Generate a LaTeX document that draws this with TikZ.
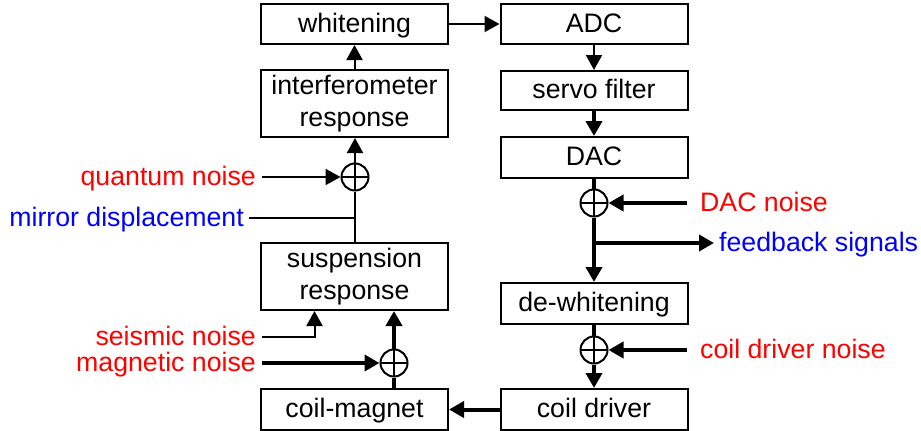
\documentclass[tikz,border=0pt]{standalone}
\usepackage{fontspec}
\setmainfont{Liberation Sans}
\usetikzlibrary{arrows.meta}
\definecolor{nred}{RGB}{255,0,0}
\definecolor{nblue}{RGB}{0,0,255}
\begin{document}
\begin{tikzpicture}[x=1pt,y=-1pt,
  every node/.style={font=\fontsize{26.7}{32}\selectfont},
  blk/.style={draw,line width=2pt,minimum width=187pt,inner sep=0pt,align=center},
  sumnode/.style={draw,circle,line width=2pt,minimum size=27pt,inner sep=0pt,
    path picture={\draw[line width=2pt] (path picture bounding box.north) -- (path picture bounding box.south)
      (path picture bounding box.west) -- (path picture bounding box.east);}},
  lbl/.style={inner sep=0pt,text height=20pt,text depth=4pt},
  thinline/.style={line width=2pt},
  thickline/.style={line width=4pt},
  tip/.style={-{Triangle[length=15pt,width=16pt]}},
]
\useasboundingbox (0,0) rectangle (921,431);
% left column
\node[blk,minimum height=40pt,text height=20pt,text depth=4pt] (wh) at (354.5,24) {whitening};
\node[blk,minimum height=67pt] (ifo) at (354.5,103.5) {interferometer\\response};
\node[blk,minimum height=67pt] (susp) at (354.5,276.5) {suspension\\response};
\node[blk,minimum height=41pt,text height=20pt,text depth=4pt] (cm) at (354.5,409.5) {coil-magnet};
% right column
\node[blk,minimum height=40pt,text height=20pt,text depth=4pt] (adc) at (594,24) {ADC};
\node[blk,minimum height=39pt,text height=20pt,text depth=4pt] (servo) at (594,90.5) {servo filter};
\node[blk,minimum height=41pt,text height=20pt,text depth=4pt] (dac) at (594,157.5) {DAC};
\node[blk,minimum height=41pt,text height=20pt,text depth=4pt] (dew) at (594,303.5) {de-whitening};
\node[blk,minimum height=41pt,text height=20pt,text depth=4pt] (cd) at (594,409.5) {coil driver};
% summing junctions
\node[sumnode] (sq) at (355,177) {};
\node[sumnode] (sm) at (394,363) {};
\node[sumnode] (sd) at (594,203) {};
\node[sumnode] (sc) at (594,350) {};
% labels
\node[lbl,anchor=east,text=nred] (qn) at (256,177) {quantum noise};
\node[lbl,anchor=east,text=nblue] (md) at (244,218) {mirror displacement};
\node[lbl,anchor=east,text=nred] (sn) at (256,337) {seismic noise};
\node[lbl,anchor=east,text=nred] (mn) at (256,363) {magnetic noise};
\node[lbl,anchor=west,text=nred] (dn) at (700,203) {DAC noise};
\node[lbl,anchor=west,text=nblue] (fb) at (719,243) {feedback signals};
\node[lbl,anchor=west,text=nred] (cn) at (700,350) {coil driver noise};
\coordinate (br) at (594,243);
% left connectors
\draw[thinline,tip] (ifo.north) -- (wh.south);
\draw[thinline,tip] (wh.east) -- (adc.west);
\draw[thinline,tip] (sq.north) -- (sq.north |- ifo.south);
\draw[thinline] (sq.south) -- (sq.south |- susp.north);
\draw[thinline,tip] ([xshift=6pt]qn.east) -- (sq.west);
\draw[thinline] ([xshift=5pt]md.east) -- (md.east -| sq);
\draw[thinline,tip] ([xshift=6pt]sn.east) -| ([xshift=-40pt]susp.south);
\draw[thickline,tip] ([xshift=6pt]mn.east) -- (sm.west);
\draw[thickline] (sm.south |- cm.north) -- (sm.south);
\draw[thickline,tip] (sm.north) -- (sm.north |- susp.south);
% right connectors
\draw[thinline,tip] (adc.south) -- (servo.north);
\draw[thickline,tip] (servo.south) -- (dac.north);
\draw[thickline] (dac.south) -- (sd.north);
\draw[thickline,tip] (sd.south) -- (dew.north);
\draw[thickline,tip] ([xshift=-13pt]dn.west) -- (sd.east);
\draw[thickline,tip] (br) -- ([xshift=-5pt]fb.west);
\draw[thickline] (dew.south) -- (sc.north);
\draw[thickline,tip] (sc.south) -- (cd.north);
\draw[thickline,tip] ([xshift=-13pt]cn.west) -- (sc.east);
\draw[thickline,tip] (cd.west) -- (cm.east);
\end{tikzpicture}
\end{document}
